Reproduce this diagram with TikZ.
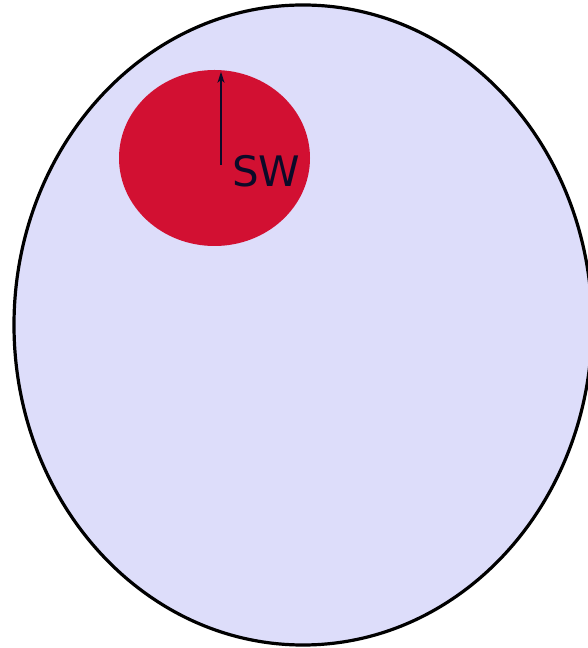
\documentclass[tikz,border=0pt]{standalone}
\usepackage{fontspec}
\setmainfont{DejaVu Sans}
\usetikzlibrary{shapes.geometric,arrows.meta}
\definecolor{lav}{RGB}{221,221,250}
\definecolor{crim}{RGB}{210,16,50}
\definecolor{navy}{RGB}{12,10,40}
\tikzset{
  outer/.style={ellipse,draw=black,line width=3.2pt,fill=lav,inner sep=0pt},
  inner/.style={ellipse,fill=crim,inner sep=0pt},
  ptr/.style={draw=navy,line width=1.3pt,-{Stealth[length=11pt,width=7pt,inset=3pt]}},
  lbl/.style={text=navy,font=\fontsize{42}{42}\selectfont,inner sep=0pt}
}
\begin{document}
\begin{tikzpicture}[x=1pt,y=1pt]
\useasboundingbox (0,0) rectangle (587,648);
\node[outer,minimum width=578pt,minimum height=640pt] (big) at (303,323) {};
\node[inner,minimum width=191pt,minimum height=176pt] (red) at (214.5,490) {};
\coordinate (tail) at (221,483);
\draw[ptr] (tail) -- ([yshift=-2pt]tail |- red.north);
\node[lbl,anchor=base west] (sw) at (232,461) {SW};
\end{tikzpicture}
\end{document}
